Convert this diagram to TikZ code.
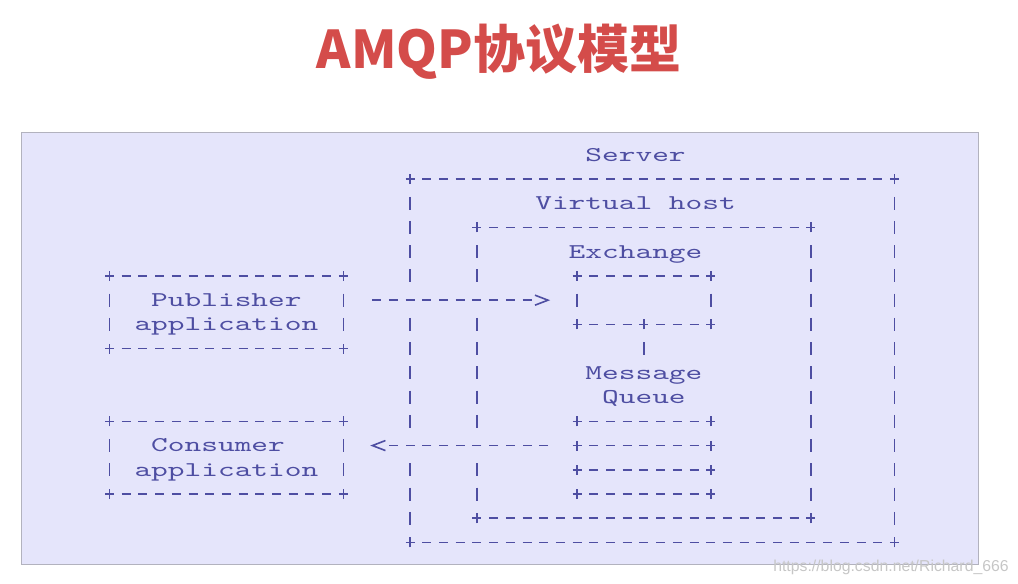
\documentclass[tikz,border=0pt]{standalone}
\usepackage{fontspec}
\usepackage{tikz}
\usetikzlibrary{arrows.meta, calc}
\newfontfamily\titlefont{Noto Sans CJK SC}
\newfontfamily\asciifont{lmmono10-regular}[Extension=.otf, FakeStretch=1.515]
\newfontfamily\markfont{Liberation Sans}
\definecolor{titlered}{RGB}{212,76,74}
\definecolor{asciiblue}{RGB}{78,78,162}
\definecolor{panel}{RGB}{229,229,251}
\definecolor{panelgray}{RGB}{178,178,190}
\def\colw{16.7pt}
\def\rowh{24.23pt}
\tikzset{
    title/.style={font=\titlefont\bfseries\fontsize{52}{60}\selectfont, text=titlered, anchor=base},
    panelbox/.style={fill=panel, draw=panelgray, line width=1pt},
    watermark/.style={font=\markfont\fontsize{15.8}{17}\selectfont, text=gray!45, anchor=base},
    frame/.style={rectangle, inner sep=0pt, outer sep=0pt},
    asciitext/.style={font=\asciifont\fontsize{21}{24}\selectfont, text=asciiblue, inner sep=0pt, anchor=base, yshift=-6.4pt},
    asciiline/.style={draw=asciiblue, line width=1.6pt},
    hline/.style={asciiline, dash pattern=on 9pt off 7.7pt, shorten <=12.2pt, shorten >=12.2pt},
    vline/.style={asciiline, dash pattern=on 13pt off 11.23pt, shorten <=17.73pt, shorten >=17.73pt},
    flow/.style={asciiline, -{Straight Barb[length=13pt, width=10pt]},
        dash pattern=on 9pt off 7.7pt on 9pt off 7.7pt on 9pt off 7.7pt on 9pt off 7.7pt on 9pt off 7.7pt on 9pt off 7.7pt on 9pt off 7.7pt on 9pt off 7.7pt on 9pt off 7.7pt on 9pt off 40pt,
        shorten <=28.9pt, shorten >=26.9pt,
        preaction={draw=panel, line width=16pt, solid, -, shorten <=28.9pt, shorten >=26.9pt}},
    corner/.pic={\draw[asciiline] (-4.5pt,0) -- (4.5pt,0) (0,-5pt) -- (0,5pt);}
}

\begin{document}
\begin{tikzpicture}[x=1pt, y=-1pt]
    \useasboundingbox (0,0) rectangle (1018,584);
    \node[title] (heading) at (499,68) {AMQP协议模型};
    \draw[panelbox] (21,132) rectangle (978,564);
    \node[watermark] (mark) at (891,571) {https://blog.csdn.net/Richard\_666};
    \begin{scope}[shift={(109.5,154.8)}, x=\colw, y=-\rowh]
        \node[frame, minimum width=29*\colw, minimum height=15*\rowh] (server) at (32.5,8.5) {};
        \node[frame, minimum width=20*\colw, minimum height=12*\rowh] (vhost) at (32,9) {};
        \node[frame, minimum width=8*\colw, minimum height=2*\rowh] (exchange) at (32,6) {};
        \node[frame, minimum width=8*\colw, minimum height=3*\rowh] (queue) at (32,12.5) {};
        \node[frame, minimum width=14*\colw, minimum height=3*\rowh] (publisher) at (7,6.5) {};
        \node[frame, minimum width=14*\colw, minimum height=3*\rowh] (consumer) at (7,12.5) {};

        \node[asciitext] (serverlabel) at (31.5,0) {Server};
        \node[asciitext] (vhostlabel) at (31.5,2) {Virtual host};
        \node[asciitext] (exchangelabel) at (31.5,4) {Exchange};
        \node[asciitext] (message) at (32,9) {Message};
        \node[asciitext] (queuelabel) at (32,10) {Queue};
        \node[asciitext] (pubname) at (7,6) {Publisher};
        \node[asciitext] (pubapp) at (7,7) {application};
        \node[asciitext] (conname) at (6.5,12) {Consumer};
        \node[asciitext] (conapp) at (7,13) {application};

        \foreach \frm in {server, vhost, exchange, publisher, consumer} {
            \draw[hline] (\frm.north west) -- (\frm.north east);
            \draw[hline] (\frm.south west) -- (\frm.south east);
            \draw[vline] (\frm.north west) -- (\frm.south west);
            \draw[vline] (\frm.north east) -- (\frm.south east);
            \pic at (\frm.north west) {corner};
            \pic at (\frm.north east) {corner};
            \pic at (\frm.south west) {corner};
            \pic at (\frm.south east) {corner};
        }
        \foreach \qrow in {0,...,3} {
            \draw[hline] ($(queue.north west)+(0,\qrow)$) -- ($(queue.north east)+(0,\qrow)$);
            \pic at ($(queue.north west)+(0,\qrow)$) {corner};
            \pic at ($(queue.north east)+(0,\qrow)$) {corner};
        }
        \pic at (exchange.south) {corner};
        \coordinate (mq) at (32,9);
        \draw[vline] (exchange.south) -- (mq);

        \draw[flow] (publisher.east |- exchange.west) -- (exchange.west);
        \draw[flow] ([yshift=0.5*\rowh]queue.west) -- ([yshift=0.5*\rowh]consumer.east);
    \end{scope}
\end{tikzpicture}
\end{document}
